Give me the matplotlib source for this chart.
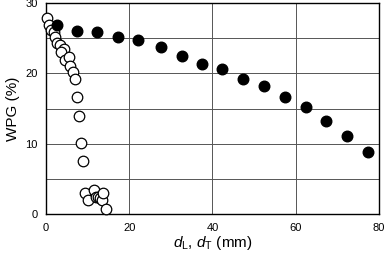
import matplotlib
matplotlib.use("Agg")
import matplotlib.pyplot as plt

plt.rcParams['font.family'] = ['Liberation Sans', 'DejaVu Sans']
plt.rcParams['mathtext.fontset'] = 'custom'
plt.rcParams['mathtext.it'] = 'Liberation Sans:italic'
plt.rcParams['mathtext.rm'] = 'Liberation Sans'

# filled circles (d_L)
dL = [2.6, 7.4, 12.3, 17.3, 22.2, 27.6, 32.6, 37.4, 42.3, 47.3, 52.3, 57.5, 62.4, 67.3, 72.3, 77.3]
wpg_L = [26.9, 26.0, 25.9, 25.2, 24.7, 23.8, 22.5, 21.4, 20.6, 19.2, 18.2, 16.7, 15.2, 13.2, 11.1, 8.9]

# open circles (d_T)
dT = [0.2, 0.8, 1.2, 1.8, 2.2, 2.6, 3.4, 4.3, 3.5, 4.6, 5.5, 5.8, 6.4, 7.0, 7.4, 7.9,
      8.3, 9.0, 9.4, 10.2, 11.6, 11.9, 12.6, 13.0, 13.4, 13.8, 14.5]
wpg_T = [27.9, 26.9, 26.2, 25.9, 25.2, 24.3, 24.0, 23.5, 23.1, 21.9, 22.3, 21.0, 20.2, 19.2, 16.7, 13.9,
         10.2, 7.6, 3.1, 2.0, 3.4, 2.5, 2.5, 2.3, 2.0, 3.0, 0.8]

fig = plt.figure(figsize=(3.87, 2.54), dpi=100)
ax = fig.add_axes([0.119, 0.156, 0.86, 0.832])

ax.set_xlim(0, 80)
ax.set_ylim(0, 30)
ax.set_xticks([0, 20, 40, 60, 80])
ax.set_yticks([0, 10, 20, 30])
ax.set_yticks([5, 15, 25], minor=True)
ax.grid(True, which='both', color='#555555', linewidth=0.7)
ax.set_axisbelow(True)
ax.tick_params(which='both', length=0, labelsize=8, pad=6)

ax.plot(dT, wpg_T, 'o', mfc='white', mec='black', mew=0.9, ms=7.6, clip_on=False, zorder=3)
ax.plot(dL, wpg_L, 'o', mfc='black', mec='black', ms=7.6, clip_on=False, zorder=4)

for s in ax.spines.values():
    s.set_color('black')
    s.set_linewidth(1.0)

ax.set_ylabel('WPG (%)', fontsize=11)
ax.set_xlabel(r'$d_\mathrm{L}$, $d_\mathrm{T}$ (mm)', fontsize=11, labelpad=1)

fig.savefig('out.png', dpi=100)
